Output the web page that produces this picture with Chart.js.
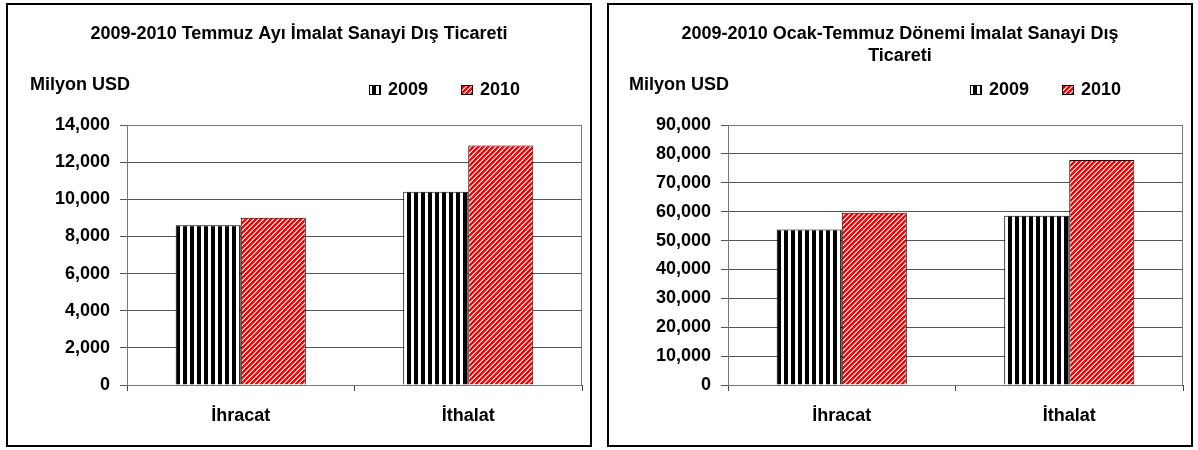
<!DOCTYPE html>
<html>
<head>
<meta charset="utf-8">
<script src="https://cdn.jsdelivr.net/npm/chart.js@4.4.1/dist/chart.umd.min.js"></script>
<style>
  body { margin: 0; background: #fff; width: 1198px; height: 450px; position: relative; overflow: hidden; }
  .quadro { position: absolute; top: 3px; width: 586px; height: 444px; border: 2px solid #000; box-sizing: border-box; }
  #quadro-1 { left: 6px; }
  #quadro-2 { left: 607px; }
  canvas { display: block; }
</style>
</head>
<body>
<div class="quadro" id="quadro-1"><canvas id="grafico-temmuz" width="582" height="440"></canvas></div>
<div class="quadro" id="quadro-2"><canvas id="grafico-ocak-temmuz" width="582" height="440"></canvas></div>
<script>
const kategoriler = ["İhracat", "İthalat"];
const yillar = ["2009", "2010"];
const temmuz2009 = [8600, 10400];
const temmuz2010 = [9000, 12900];
const ocakTemmuz2009 = [53800, 58600];
const ocakTemmuz2010 = [59600, 77900];

const FONTE = "'Liberation Sans', Arial, sans-serif";

// desenhos das barras
function padraoListras() {
  const c = document.createElement("canvas");
  c.width = 7;
  c.height = 7;
  const g = c.getContext("2d");
  g.fillStyle = "#fff";
  g.fillRect(0, 0, 7, 7);
  g.fillStyle = "#000";
  g.fillRect(0, 0, 4, 7);
  return g.createPattern(c, "repeat");
}

function padraoDiagonal() {
  const n = 5;
  const c = document.createElement("canvas");
  c.width = n;
  c.height = n;
  const g = c.getContext("2d");
  for (let x = 0; x < n; x++) {
    for (let y = 0; y < n; y++) {
      const d = (x + y) % n;
      g.fillStyle = d < 3 ? "#ff0000" : d === 3 ? "#ff9a9a" : "#ffffff";
      g.fillRect(x, y, 1, 1);
    }
  }
  return g.createPattern(c, "repeat");
}

const cabecalhoPlugin = {
  id: "cabecalho",
  beforeDatasetsDraw(chart) {
    const { ctx, chartArea } = chart;
    ctx.save();
    ctx.strokeStyle = "#777";
    ctx.lineWidth = 1;
    ctx.strokeRect(chartArea.left + 0.5, chartArea.top + 0.5, chartArea.width - 1, chartArea.height);
    ctx.restore();
  },
  afterDraw(chart) {
    const { ctx, width } = chart;
    const opts = chart.config.options.plugins.cabecalho;
    ctx.save();
    ctx.fillStyle = "#000";
    ctx.font = "bold 18px " + FONTE;
    ctx.textAlign = "center";
    ctx.textBaseline = "middle";
    opts.titulo.forEach((linha, i) => {
      ctx.fillText(linha, width / 2, 29 + i * 22);
    });
    ctx.textAlign = "left";
    ctx.fillText("Milyon USD", opts.unidadeX, 80);

    // legenda
    chart.data.datasets.forEach((ds, i) => {
      const x = opts.legendaX[i];
      ctx.fillStyle = ds.backgroundColor;
      ctx.fillRect(x, 80, 12, 10);
      ctx.strokeStyle = "#000";
      ctx.lineWidth = 1;
      ctx.strokeRect(x + 0.5, 80.5, 11, 9);
      ctx.fillStyle = "#000";
      ctx.fillText(ds.label, x + 19, 85);
    });
    ctx.restore();
  },
};

function criarGrafico(id, titulo, valores2009, valores2010, maximo, passo, unidadeX) {
  const canvas = document.getElementById(id);
  new Chart(canvas.getContext("2d"), {
    type: "bar",
    plugins: [cabecalhoPlugin],
    data: {
      labels: kategoriler,
      datasets: [
        {
          label: yillar[0],
          data: valores2009,
          backgroundColor: padraoListras(),
          borderColor: "#000",
          borderWidth: 1,
        },
        {
          label: yillar[1],
          data: valores2010,
          backgroundColor: padraoDiagonal(),
          borderColor: "#000",
          borderWidth: 1,
        },
      ],
    },
    options: {
      responsive: false,
      animation: false,
      devicePixelRatio: 1,
      barPercentage: 1,
      categoryPercentage: 0.572,
      layout: { padding: { top: 120, right: 8, left: 0, bottom: 0 } },
      plugins: {
        legend: { display: false },
        title: { display: false },
        tooltip: { enabled: false },
        cabecalho: {
          titulo,
          unidadeX,
          legendaX: [361, 453],
        },
      },
      scales: {
        x: {
          afterFit: (scale) => { scale.height = 60; },
          grid: { drawOnChartArea: false, drawTicks: true, tickLength: 6, color: "#444", offset: true },
          border: { color: "#444" },
          ticks: { color: "#000", font: { family: FONTE, size: 18, weight: "bold" }, padding: 14 },
        },
        y: {
          min: 0,
          max: maximo,
          afterFit: (scale) => { scale.width = 119; },
          grid: { color: "#555", tickLength: 7 },
          border: { color: "#555" },
          ticks: {
            stepSize: passo,
            color: "#000",
            padding: 10,
            font: { family: FONTE, size: 18, weight: "bold" },
            callback: (v) => v.toLocaleString("en-US"),
          },
        },
      },
    },
  });
}

criarGrafico(
  "grafico-temmuz",
  ["2009-2010 Temmuz Ayı İmalat Sanayi Dış Ticareti"],
  temmuz2009, temmuz2010, 14000, 2000, 22
);
criarGrafico(
  "grafico-ocak-temmuz",
  ["2009-2010 Ocak-Temmuz Dönemi İmalat Sanayi Dış", "Ticareti"],
  ocakTemmuz2009, ocakTemmuz2010, 90000, 10000, 20
);
</script>
</body>
</html>
